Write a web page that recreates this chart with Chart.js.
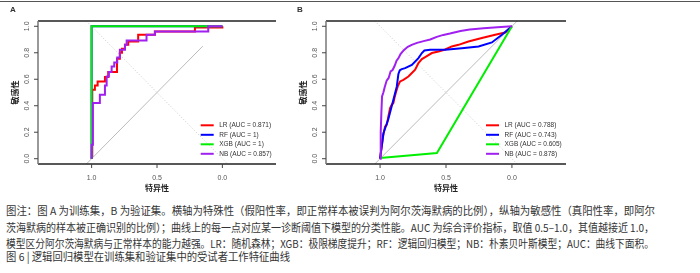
<!DOCTYPE html>
<html>
<head>
<meta charset="utf-8">
<script src="https://cdn.jsdelivr.net/npm/chart.js@4.4.1/dist/chart.umd.min.js"></script>
<style>
  body { margin: 0; width: 700px; height: 273px; background: #fff; position: relative; overflow: hidden; }
  #rule { position: absolute; left: 0; top: 1px; width: 700px; height: 1px; background: #555; }
  #cvA { position: absolute; left: 0; top: 0; }
  #cvB { position: absolute; left: 295px; top: 0; }
  .cap { position: absolute; left: 6px; white-space: nowrap; font-family: "Noto Sans CJK SC", sans-serif;
         font-size: 11px; line-height: 14px; color: #333; transform-origin: 0 50%; }
</style>
</head>
<body>
<div id="rule"></div>
<canvas id="cvA" width="295" height="195"></canvas>
<canvas id="cvB" width="405" height="195"></canvas>
<div class="cap" id="cap1" style="top:203px">图注：图 A 为训练集，B 为验证集。横轴为特殊性（假阳性率，即正常样本被误判为阿尔茨海默病的比例），纵轴为敏感性（真阳性率，即阿尔</div>
<div class="cap" id="cap2" style="top:220px">茨海默病的样本被正确识别的比例）；曲线上的每一点对应某一诊断阈值下模型的分类性能。AUC 为综合评价指标，取值 0.5–1.0，其值越接近 1.0，</div>
<div class="cap" id="cap3" style="top:236px">模型区分阿尔茨海默病与正常样本的能力越强。LR：随机森林；XGB：极限梯度提升；RF：逻辑回归模型；NB：朴素贝叶斯模型；AUC：曲线下面积。</div>
<div class="cap" id="cap4" style="top:249px">图 6 | 逻辑回归模型在训练集和验证集中的受试者工作特征曲线</div>
<script>
// 축 눈금
const specTicks = [1.0, 0.5, 0.0];
const sensTicks = [0.0, 0.2, 0.4, 0.6, 0.8, 1.0];

// 모델 이름, 색, AUC
const modelNames = ["LR", "RF", "XGB", "NB"];
const modelColors = ["#ff0000", "#0000ff", "#00ee00", "#a020f0"];
const aucA = ["0.871", "1", "1", "0.857"];
const aucB = ["0.788", "0.743", "0.605", "0.878"];

// A (훈련 세트) ROC 곡선: [특이도, 민감도]
const lrA = [[1,0],[0.995,0.02],[0.995,0.52],[0.975,0.52],[0.975,0.553],[0.954,0.553],[0.954,0.584],
  [0.898,0.584],[0.898,0.617],[0.873,0.617],[0.873,0.655],[0.806,0.655],[0.806,0.755],[0.784,0.755],
  [0.784,0.8],[0.768,0.8],[0.768,0.83],[0.745,0.83],[0.745,0.86],[0.72,0.86],[0.72,0.885],[0.644,0.885],
  [0.644,0.936],[0.516,0.936],[0.516,0.961],[0.21,0.961],[0.21,0.99],[0,0.99],[0,1]];
const rfA = [[1,0],[1,1],[0,1]];
const xgbA = [[1,0],[1,1],[0,1]];
const nbA = [[1,0],[1,0.105],[0.99,0.105],[0.99,0.42],[0.937,0.42],[0.937,0.483],[0.898,0.483],
  [0.898,0.553],[0.885,0.553],[0.885,0.621],[0.868,0.621],[0.868,0.654],[0.847,0.654],[0.847,0.697],
  [0.827,0.697],[0.827,0.727],[0.804,0.727],[0.804,0.765],[0.784,0.765],[0.784,0.823],[0.745,0.823],
  [0.745,0.86],[0.732,0.86],[0.732,0.893],[0.58,0.893],[0.58,0.936],[0.516,0.936],[0.516,0.961],
  [0.108,0.961],[0.108,1],[0,1]];

// B (검증 세트) ROC 곡선
const lrB = [[1,0],[0.987,0.093],[0.975,0.181],[0.962,0.244],[0.949,0.256],[0.937,0.319],[0.924,0.383],
  [0.911,0.408],[0.899,0.42],[0.891,0.458],[0.881,0.496],[0.866,0.546],[0.848,0.584],[0.823,0.596],
  [0.785,0.621],[0.759,0.647],[0.734,0.672],[0.709,0.722],[0.683,0.752],[0.658,0.767],[0.607,0.798],
  [0.557,0.81],[0.506,0.825],[0.456,0.848],[0.405,0.86],[0.33,0.885],[0.228,0.911],[0.127,0.936],
  [0.051,0.953],[0,1]];
const rfB = [[1,0],[0.975,0.19],[0.937,0.3],[0.899,0.445],[0.873,0.546],[0.861,0.64],[0.85,0.668],
  [0.835,0.677],[0.81,0.684],[0.759,0.709],[0.709,0.76],[0.683,0.798],[0.664,0.817],[0.62,0.823],
  [0.506,0.823],[0.38,0.835],[0.253,0.848],[0.152,0.878],[0.076,0.936],[0,1]];
const xgbB = [[1,0.005],[0.569,0.043],[0,1]];
const nbB = [[1,0],[0.995,0.2],[0.99,0.35],[0.985,0.47],[0.975,0.5],[0.965,0.54],[0.95,0.59],[0.935,0.61],
  [0.92,0.66],[0.905,0.67],[0.89,0.7],[0.875,0.74],[0.86,0.76],[0.845,0.79],[0.82,0.82],[0.79,0.845],
  [0.76,0.86],[0.72,0.875],[0.67,0.888],[0.62,0.9],[0.57,0.92],[0.52,0.935],[0.47,0.945],[0.39,0.965],
  [0.32,0.975],[0.215,0.985],[0.11,0.993],[0,1]];

// 참고선
const chanceA = [[1.04,-0.04],[0.15,0.85]];
const chanceB = [[1.04,-0.04],[-0.04,1.04]];
const equalLine = [[1.04,1.04],[-0.04,-0.04]];

function toPts(arr) {
  return arr.map(p => ({ x: p[0], y: p[1] }));
}

// 테두리, 눈금, 축 제목, 범례를 그리는 플러그인
function makeDecor(letter, aucs, legendX) {
  return {
    id: "decor" + letter,
    afterDraw(chart) {
      const ctx = chart.ctx;
      const a = chart.chartArea;
      const xs = chart.scales.x, ys = chart.scales.y;
      ctx.save();
      // 테두리 (위, 아래, 왼쪽)
      ctx.lineWidth = 1.5;
      ctx.strokeStyle = "#222";
      ctx.beginPath();
      ctx.moveTo(a.left, a.top); ctx.lineTo(a.right, a.top);
      ctx.moveTo(a.left, a.bottom); ctx.lineTo(a.right, a.bottom);
      ctx.stroke();
      ctx.strokeStyle = "#777";
      ctx.beginPath();
      ctx.moveTo(a.left, a.top); ctx.lineTo(a.left, a.bottom);
      ctx.stroke();

      // y 눈금
      ctx.lineWidth = 1;
      ctx.strokeStyle = "#444";
      ctx.fillStyle = "#555";
      ctx.font = "7px 'Liberation Sans'";
      ctx.textAlign = "center";
      ctx.textBaseline = "middle";
      sensTicks.forEach(v => {
        const y = ys.getPixelForValue(v);
        ctx.beginPath(); ctx.moveTo(a.left - 4, y); ctx.lineTo(a.left, y); ctx.stroke();
        ctx.save();
        ctx.translate(a.left - 11, y);
        ctx.rotate(-Math.PI / 2);
        ctx.fillText(v.toFixed(1), 0, 0);
        ctx.restore();
      });
      // x 눈금
      specTicks.forEach(v => {
        const x = xs.getPixelForValue(v);
        ctx.beginPath(); ctx.moveTo(x, a.bottom); ctx.lineTo(x, a.bottom + 4); ctx.stroke();
        ctx.fillText(v.toFixed(1), x, a.bottom + 14);
      });

      // 축 제목
      ctx.fillStyle = "#222";
      ctx.font = "bold 8px 'Noto Sans CJK SC'";
      const midX = (xs.getPixelForValue(1) + xs.getPixelForValue(0)) / 2;
      const midY = (ys.getPixelForValue(1) + ys.getPixelForValue(0)) / 2;
      ctx.fillText("特异性", midX, a.bottom + 24);
      ctx.save();
      ctx.translate(a.left - 23, midY);
      ctx.rotate(-Math.PI / 2);
      ctx.fillText("敏感性", 0, 0);
      ctx.restore();

      // 패널 글자
      ctx.font = "bold 8px 'Liberation Sans'";
      ctx.fillStyle = "#333";
      ctx.fillText(letter, letter === "A" ? 13 : 5, 10);

      // 범례
      ctx.font = "6.5px 'Liberation Sans'";
      ctx.textAlign = "left";
      ctx.lineWidth = 2;
      for (let i = 0; i < modelNames.length; i++) {
        const y = 125.3 + i * 9.5;
        ctx.strokeStyle = modelColors[i];
        ctx.beginPath(); ctx.moveTo(legendX, y); ctx.lineTo(legendX + 13, y); ctx.stroke();
        ctx.fillStyle = "#333";
        ctx.fillText(modelNames[i] + " (AUC = " + aucs[i] + ")", legendX + 18.5, y);
      }
      ctx.restore();
    }
  };
}

function makeRoc(canvasId, letter, curves, aucs, chance, pad, legendX) {
  const ctx = document.getElementById(canvasId).getContext("2d");
  const datasets = [];
  // 순서: NB가 가장 위, 그 다음 XGB, RF, LR
  const orders = [4, 3, 2, 1];
  curves.forEach((c, i) => {
    datasets.push({
      data: toPts(c), showLine: true, borderColor: modelColors[i], borderWidth: 2,
      pointRadius: 0, fill: false, order: orders[i]
    });
  });
  datasets.push({ data: toPts(chance), showLine: true, borderColor: "#bbb", borderWidth: 1, pointRadius: 0, order: 5 });
  datasets.push({ data: toPts(equalLine), showLine: true, borderColor: "#c8c8c8", borderWidth: 1,
    borderDash: [1, 2], pointRadius: 0, order: 6 });

  return new Chart(ctx, {
    type: "scatter",
    data: { datasets: datasets },
    options: {
      responsive: false,
      animation: false,
      events: [],
      layout: { padding: pad },
      plugins: { legend: { display: false }, tooltip: { enabled: false } },
      scales: {
        x: { type: "linear", reverse: true, min: -0.41, max: 1.41, display: false },
        y: { type: "linear", min: -0.04, max: 1.04, display: false }
      }
    },
    plugins: [makeDecor(letter, aucs, legendX)]
  });
}

makeRoc("cvA", "A", [lrA, rfA, xgbA, nbA], aucA, chanceA, { left: 38, right: 19, top: 21, bottom: 31 }, 200.7);
makeRoc("cvB", "B", [lrB, rfB, xgbB, nbB], aucB, chanceB, { left: 31, right: 134, top: 21, bottom: 31 }, 191);

// 캡션 줄 너비 맞추기
const capWidths = { cap1: 649, cap2: 648, cap3: 648, cap4: 284 };
function fitCaps() {
  Object.keys(capWidths).forEach(id => {
    const el = document.getElementById(id);
    el.style.transform = "none";
    const w = el.getBoundingClientRect().width;
    el.style.transform = "scaleX(" + (capWidths[id] / w) + ")";
  });
}
fitCaps();
if (document.fonts) document.fonts.ready.then(fitCaps);
</script>
</body>
</html>
